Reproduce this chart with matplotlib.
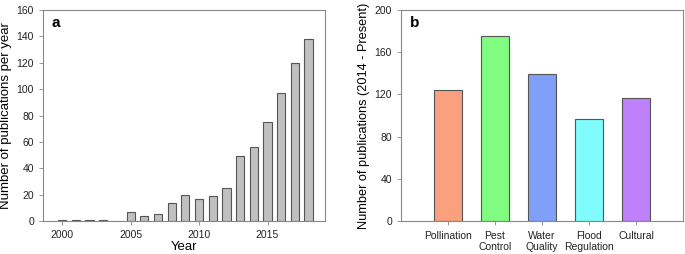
import matplotlib.pyplot as plt

plt.rcParams['font.family'] = ['Liberation Sans', 'DejaVu Sans']

# panel a: publications per year
years = [2000, 2001, 2002, 2003, 2004, 2005, 2006, 2007, 2008, 2009,
         2010, 2011, 2012, 2013, 2014, 2015, 2016, 2017, 2018]
pubs_per_year = [1, 1, 1, 1, 0, 7, 4, 5, 14, 20, 17, 19, 25, 49, 56, 75, 97, 120, 138]

# panel b: publications by service
services = ['Pollination', 'Pest\nControl', 'Water\nQuality', 'Flood\nRegulation', 'Cultural']
service_pubs = [124, 175, 139, 97, 117]
service_colors = ['#FBA07F', '#80FC80', '#809FF8', '#80FCFC', '#BF80FC']

edge = '#555555'
spine_col = '#888888'

fig = plt.figure(figsize=(6.85, 2.54), dpi=100)
ax1 = fig.add_axes([43/685, 1 - 221/254, 282/685, 211/254])
ax2 = fig.add_axes([401/685, 1 - 221/254, 282/685, 211/254])

ax1.bar(years, pubs_per_year, width=0.6, color='#C0C0C0', edgecolor=edge, linewidth=0.8)
ax1.set_xlim(1998.6, 2019.2)
ax1.set_ylim(0, 160)
ax1.set_xticks([2000, 2005, 2010, 2015])
ax1.set_yticks(range(0, 161, 20))
ax1.set_xlabel('Year', fontsize=9.5, labelpad=1)
ax1.set_ylabel('Number of publications per year', fontsize=9.5, labelpad=3)
ax1.text(0.03, 0.97, 'a', transform=ax1.transAxes, fontsize=11, fontweight='bold',
         va='top', ha='left')

ax2.bar(range(1, 6), service_pubs, width=0.6, color=service_colors, edgecolor=edge, linewidth=0.8)
ax2.set_xlim(0, 6)
ax2.set_ylim(0, 200)
ax2.set_xticks(range(1, 6))
ax2.set_xticklabels(services)
ax2.set_yticks(range(0, 201, 40))
ax2.set_ylabel('Number of publications (2014 - Present)', fontsize=9.2, labelpad=3)
ax2.text(0.03, 0.97, 'b', transform=ax2.transAxes, fontsize=11, fontweight='bold',
         va='top', ha='left')
ax2.tick_params(axis='x', length=0, pad=4)

for ax in (ax1, ax2):
    for s in ax.spines.values():
        s.set_color(spine_col)
        s.set_linewidth(0.8)
    ax.tick_params(labelsize=7.5, colors='#222222', width=0.6, length=3)
    ax.tick_params(axis='both', color=spine_col)

plt.savefig('out.png', dpi=100)
